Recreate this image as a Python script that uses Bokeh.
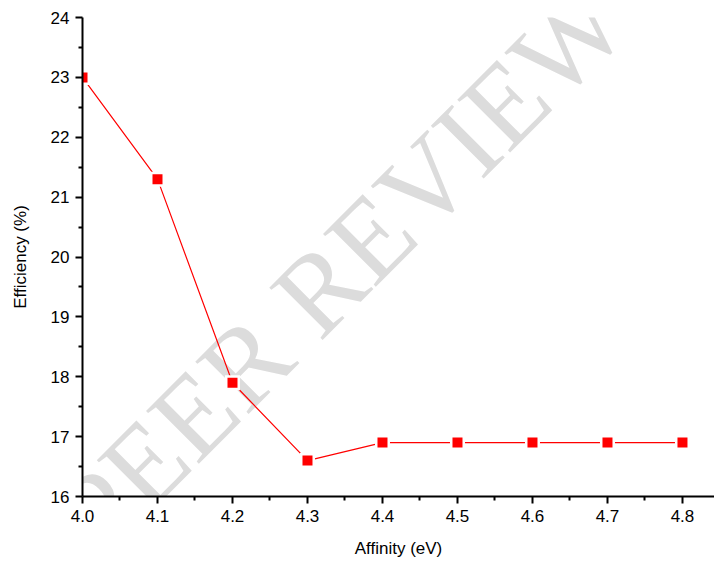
from bokeh.plotting import figure
from bokeh.models import Range1d, Label, FixedTicker, ColumnDataSource
from bokeh.embed import file_html
from bokeh.resources import INLINE
import math

affinity = [4.0, 4.1, 4.2, 4.3, 4.4, 4.5, 4.6, 4.7, 4.8]
efficiency = [23.0, 21.3, 17.9, 16.6, 16.9, 16.9, 16.9, 16.9, 16.9]
x_ticks = [4.0, 4.1, 4.2, 4.3, 4.4, 4.5, 4.6, 4.7, 4.8]
y_ticks = [16, 17, 18, 19, 20, 21, 22, 23, 24]
x_minor = [4.05, 4.15, 4.25, 4.35, 4.45, 4.55, 4.65, 4.75]
y_minor = [16.5, 17.5, 18.5, 19.5, 20.5, 21.5, 22.5, 23.5]

FONT = "Liberation Sans"

p = figure(width=714, height=564, output_backend="svg", toolbar_location=None,
           x_range=Range1d(4.0, 4.8427), y_range=Range1d(16, 24),
           min_border_left=82, min_border_right=0, min_border_top=17, min_border_bottom=68)
p.outline_line_color = None
p.grid.grid_line_color = None
p.background_fill_color = "white"
p.border_fill_color = "white"

# watermark (drawn beneath the data)
wm = Label(x=258, y=229, x_units="screen", y_units="screen", text="PEER REVIEW",
           angle=math.pi / 4, text_align="center", text_baseline="middle",
           text_font="Liberation Serif", text_font_size="114px", text_color="#dcdcdc",
           level="underlay")
p.add_layout(wm)

src = ColumnDataSource(dict(x=affinity, y=efficiency))
p.line("x", "y", source=src, line_color="red", line_width=1.2)
p.scatter("x", "y", source=src, marker="square", size=15, fill_color="white", line_color=None)
p.scatter("x", "y", source=src, marker="square", size=10, fill_color="red", line_color=None)

for ax, ticks, minor in ((p.xaxis[0], x_ticks, x_minor), (p.yaxis[0], y_ticks, y_minor)):
    ax.ticker = FixedTicker(ticks=ticks, minor_ticks=minor)
    ax.axis_line_width = 2
    ax.axis_line_color = "black"
    ax.major_tick_line_width = 2
    ax.minor_tick_line_width = 2
    ax.major_tick_out = 7
    ax.major_tick_in = 0
    ax.minor_tick_out = 4
    ax.minor_tick_in = 0
    ax.major_label_text_font = FONT
    ax.major_label_text_font_size = "17px"
    ax.major_label_text_color = "black"
    ax.axis_label_text_font = FONT
    ax.axis_label_text_font_size = "17px"
    ax.axis_label_text_font_style = "normal"
    ax.axis_label_text_color = "black"

p.xaxis.axis_label = "Affinity (eV)"
p.yaxis.axis_label = "Efficiency (%)"
p.xaxis.major_label_standoff = 6
p.yaxis.major_label_standoff = 6
p.xaxis.axis_label_standoff = 14
p.yaxis.axis_label_standoff = 18
p.xaxis.major_label_overrides = {t: f"{t:.1f}" for t in x_ticks}

open("out.html", "w").write(file_html(p, INLINE))
